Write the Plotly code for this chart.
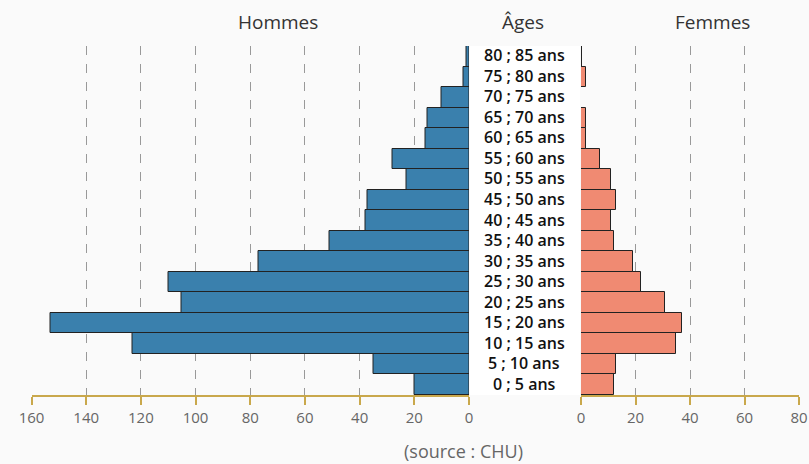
import plotly.graph_objects as go

ages = ["0 ; 5 ans", "5 ; 10 ans", "10 ; 15 ans", "15 ; 20 ans", "20 ; 25 ans",
        "25 ; 30 ans", "30 ; 35 ans", "35 ; 40 ans", "40 ; 45 ans", "45 ; 50 ans",
        "50 ; 55 ans", "55 ; 60 ans", "60 ; 65 ans", "65 ; 70 ans", "70 ; 75 ans",
        "75 ; 80 ans", "80 ; 85 ans"]
hommes = [20, 35, 123, 153, 105, 110, 77, 51, 38, 37, 23, 28, 16, 15, 10, 2, 1]
femmes = [12, 13, 35, 37, 31, 22, 19, 12, 11, 13, 11, 7, 2, 2, 0, 2, 0.5]
ticks_h = [160, 140, 120, 100, 80, 60, 40, 20, 0]
ticks_f = [0, 20, 40, 60, 80]

W, H = 809, 464
top, bottom = 46, 395
ph = bottom - top
FONT = "Open Sans, sans-serif"

def py(y):
    return (bottom - y) / ph

fig = go.Figure()
fig.add_trace(go.Bar(y=ages, x=hommes, orientation="h", xaxis="x", yaxis="y",
                     marker=dict(color="#3a80ad", line=dict(color="#222222", width=1)),
                     showlegend=False, hoverinfo="x+y"))
fig.add_trace(go.Bar(y=ages, x=femmes, orientation="h", xaxis="x2", yaxis="y",
                     marker=dict(color="#f08a72", line=dict(color="#222222", width=1)),
                     showlegend=False, hoverinfo="x+y"))

axis_common = dict(
    showgrid=True, gridcolor="#999999", griddash="dash", gridwidth=1,
    showline=True, linecolor="#c9a84c", linewidth=2,
    ticks="outside", tickcolor="#c9a84c", ticklen=8, tickwidth=2,
    tickfont=dict(family=FONT, size=15, color="#666666"),
    zeroline=False, fixedrange=True, automargin=False,
)

fig.update_layout(
    width=W, height=H,
    margin=dict(l=0, r=0, t=top, b=H - bottom, autoexpand=False),
    paper_bgcolor="#fafafa", plot_bgcolor="rgba(0,0,0,0)",
    bargap=0,
    xaxis=dict(domain=[31.5 / W, 469 / W], range=[160, 0], tickvals=ticks_h, **axis_common),
    xaxis2=dict(domain=[581 / W, 799 / W], range=[0, 80], tickvals=ticks_f, anchor="y", **axis_common),
    yaxis=dict(categoryorder="array", categoryarray=ages, range=[-0.5, len(ages) - 0.5],
               showticklabels=False, showgrid=False, zeroline=False, showline=False,
               fixedrange=True, automargin=False),
)

# white central strip
fig.add_shape(type="rect", xref="paper", yref="paper",
              x0=470 / W, x1=580 / W, y0=0, y1=1,
              fillcolor="#ffffff", line=dict(width=0), layer="below")

for a in ages:
    fig.add_annotation(x=524 / W, xref="paper", y=a, yref="y", text=a, showarrow=False,
                       font=dict(family=FONT, size=16, color="#111111", weight=600),
                       xanchor="center", yanchor="middle", yshift=1)

title_font = dict(family=FONT, size=19, color="#333333")
for txt, x in [("Hommes", 278), ("Âges", 523), ("Femmes", 712)]:
    fig.add_annotation(x=x / W, xref="paper", y=py(22), yref="paper", text=txt,
                       showarrow=False, font=title_font, xanchor="center", yanchor="middle")

fig.add_annotation(x=463 / W, xref="paper", y=py(451), yref="paper", text="(source : CHU)",
                   showarrow=False, font=dict(family=FONT, size=18, color="#666666"),
                   xanchor="center", yanchor="middle")

fig.write_html("out.html", config={"displayModeBar": False},
               post_script="document.body.style.margin='0';document.body.style.background='#fafafa';")
